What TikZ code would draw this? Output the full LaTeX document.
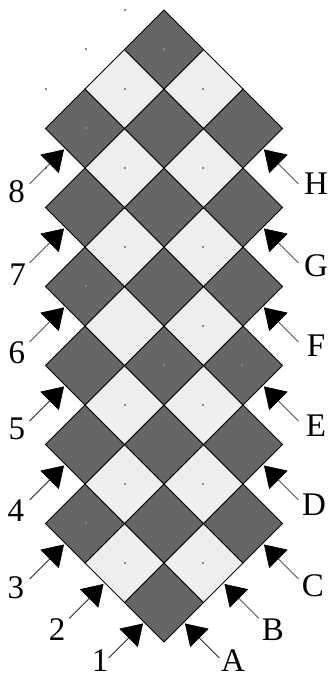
\documentclass[tikz,border=0pt]{standalone}
\usepackage{fontspec}
\setmainfont{Liberation Serif}
\usetikzlibrary{arrows.meta}
\definecolor{cdark}{HTML}{666666}
\definecolor{clight}{HTML}{EEEEEE}
\definecolor{cspeck}{HTML}{888888}
\begin{document}
\begin{tikzpicture}[x=1pt,y=-1pt,
  cell/.style={draw=black,line width=0.8pt,line join=miter},
  pointer/.style={-{Triangle[length=20.5pt,width=26pt]},line width=0.7pt},
  lab/.style={font=\fontsize{33}{36}\selectfont,inner sep=0pt},
  speck/.style={fill=cspeck,draw=none}]
\useasboundingbox (0,0) rectangle (329,680);
% board cells
\foreach \i in {0,...,7}{
  \foreach \j in {0,...,7}{
    \pgfmathtruncatemacro\dd{abs(\i-\j)}
    \ifnum\dd<3
      \pgfmathtruncatemacro\pp{mod(\i+\j,2)}
      \ifnum\pp=0 \def\cc{cdark}\else\def\cc{clight}\fi
      \pgfmathsetmacro\cx{164+(\j-\i)*39.5}
      \pgfmathsetmacro\cy{602.5-(\i+\j)*39.5}
      \draw[cell,fill=\cc] (\cx-39.5,\cy) -- (\cx,\cy-39.5) -- (\cx+39.5,\cy) -- (\cx,\cy+39.5) -- cycle;
    \fi
  }
}
% tiny specks
\foreach \px/\py in {125/10,86/49,46/89,46/168,164/49,125/89,203/89,86/128,125/168,203/168,
  125/247,203/247,86/286,203/326,164/365,242/365,125/405,203/405,125/484,203/484,86/523,125/563,203/563}{
  \fill[speck] (\px-0.6,\py-0.6) rectangle (\px+0.6,\py+0.6);
}
% left arrows and labels
\foreach \k/\mx/\my/\lx/\ly in {1/144.25/622.25/100/661, 2/104.75/582.75/57/630,
  3/65.25/543.25/16/588, 4/65.25/464.25/16/511, 5/65.25/385.25/17/429,
  6/65.25/306.25/17/353, 7/65.25/227.25/17.5/275, 8/65.25/148.25/16.7/192}{
  \coordinate (e\k) at (\mx-1.2,\my+1.2);
  \coordinate (s\k) at (\mx-35.7,\my+35.7);
  \node[lab] (l\k) at (\lx,\ly) {\k};
  \draw[pointer] (s\k) -- (e\k);
}
% right arrows and labels
\foreach \k/\mx/\my/\lx/\ly in {A/183.75/622.25/233/661, B/223.25/582.75/273/630,
  C/262.75/543.25/313/586, D/262.75/464.25/314/505, E/262.75/385.25/316/426,
  F/262.75/306.25/316/346, G/262.75/227.25/316/266, H/262.75/148.25/316/184}{
  \coordinate (e\k) at (\mx+1.2,\my+1.2);
  \coordinate (s\k) at (\mx+35.7,\my+35.7);
  \node[lab] (l\k) at (\lx,\ly) {\k};
  \draw[pointer] (s\k) -- (e\k);
}
\end{tikzpicture}
\end{document}
